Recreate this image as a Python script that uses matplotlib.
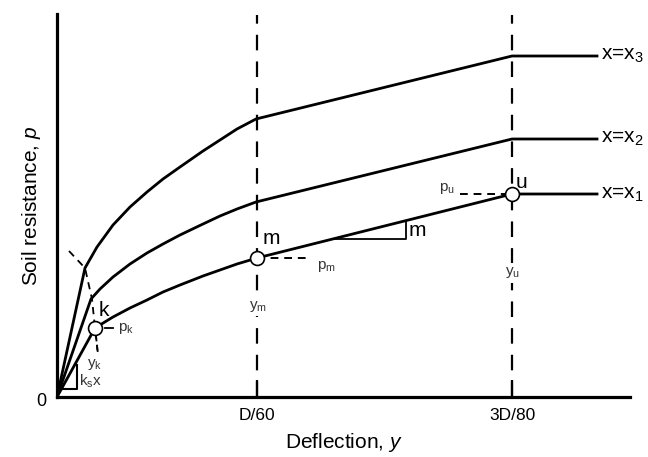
import matplotlib
matplotlib.use("Agg")
import matplotlib.pyplot as plt

plt.rcParams['font.family'] = ['Liberation Sans', 'DejaVu Sans']
plt.rcParams['mathtext.fontset'] = 'custom'
plt.rcParams['mathtext.rm'] = 'Liberation Sans'
plt.rcParams['mathtext.it'] = 'Liberation Sans:italic'

# deflection / resistance points (schematic units)
y_x1 = [0, 38, 56, 73, 90, 106, 123, 146, 163, 180, 200, 455, 540]
p_x1 = [0, 69, 80, 89, 97, 105, 112, 121, 127, 133, 139, 203, 203]
y_x2 = [0, 34, 43, 56, 73, 90, 106, 123, 146, 163, 180, 199, 455, 540]
p_x2 = [0, 98, 108, 120, 133, 144, 153, 162, 173, 181, 188, 195, 258, 258]
y_x3 = [0, 28, 40, 56, 73, 90, 106, 123, 146, 163, 180, 199, 455, 540]
p_x3 = [0, 129, 150, 172, 190, 205, 218, 230, 246, 257, 268, 278, 341, 341]
curve_labels = ["x=x$_1$", "x=x$_2$", "x=x$_3$"]

# dashed line through the k points
y_kline = [12, 28, 35, 38, 41]
p_kline = [146, 129, 98, 69, 43]

# key points on the x=x1 curve
y_k, p_k = 38, 69
y_m, p_m = 200, 139
y_u, p_u = 455, 203

tick_pos = [y_m, y_u]
tick_labels = ["D/60", "3D/80"]

fig = plt.figure(figsize=(6.48, 4.57), dpi=100)
ax = fig.add_axes([57/648, 60/457, 573/648, 383/457])
ax.set_xlim(0, 573)
ax.set_ylim(0, 383)
for s in ['top', 'right']:
    ax.spines[s].set_visible(False)
for s in ['left', 'bottom']:
    ax.spines[s].set_linewidth(2.3)

ax.set_xticks(tick_pos)
ax.set_xticklabels(tick_labels, fontsize=12.5)
ax.set_yticks([])
ax.tick_params(axis='x', direction='in', length=12, width=1.6, pad=8)

# vertical dashed guides
for xv in tick_pos:
    ax.plot([xv, xv], [0, 382], color='black', lw=1.6, ls=(0, (7, 5)))

for yy, pp, lab in zip([y_x1, y_x2, y_x3], [p_x1, p_x2, p_x3], curve_labels):
    ax.plot(yy, pp, color='black', lw=2.0, solid_joinstyle='round', zorder=3)
    ax.text(yy[-1] + 4, pp[-1], lab, fontsize=15, va='center', ha='left')

ax.plot(y_kline, p_kline, color='black', lw=1.3, ls=(0, (4, 3)), zorder=2)

# small dashed leaders
ax.plot([y_k + 1, y_k + 3], [p_k - 8, p_k - 28], color='black', lw=1.3, ls=(0, (3, 2)))
ax.plot([y_m, y_m + 52], [p_m, p_m], color='black', lw=1.4, ls=(0, (4, 3)))
ax.plot([y_u - 52, y_u], [p_u, p_u], color='black', lw=1.4, ls=(0, (4, 3)))
ax.plot([y_k + 10, y_k + 18], [p_k, p_k], color='black', lw=1.3)

# slope triangle (m)
ax.plot([278, 349, 349], [158, 158, 176], color='black', lw=1.3)
# initial slope triangle (ks x)
ax.plot([5, 20, 20], [8, 8, 32], color='black', lw=1.5)

# circles at k, m, u
ax.plot([y_k, y_m, y_u], [p_k, p_m, p_u], 'o', ms=10, mfc='white', mec='black',
        mew=1.2, zorder=5)

tc = '#333333'
wb = dict(facecolor='white', edgecolor='none', pad=1.5)
ax.text(y_k + 9, p_k + 18, "k", fontsize=15, ha='center', va='center')
ax.text(y_k + 23, p_k, r"$\mathregular{p_k}$", fontsize=11, color=tc, va='center', ha='left')
ax.text(y_k + 0, p_k - 36, r"$\mathregular{y_k}$", fontsize=11, color=tc, va='center',
        ha='center', bbox=wb, zorder=4)
ax.text(22, 16, r"$\mathregular{k_s x}$", fontsize=11, color=tc, va='center', ha='left')
ax.text(y_m + 6, p_m + 19, "m", fontsize=15, ha='left', va='center')
ax.text(y_m + 60, p_m - 9, r"$\mathregular{p_m}$", fontsize=11, color=tc, va='center', ha='left')
ax.text(y_m + 1, p_m - 48, r"$\mathregular{y_m}$", fontsize=11, color=tc, va='center',
        ha='center', bbox=wb, zorder=4)
ax.text(352, 167, "m", fontsize=15, ha='left', va='center')
ax.text(y_u + 4, p_u + 12, "u", fontsize=15, ha='left', va='center')
ax.text(y_u - 57, p_u + 6, r"$\mathregular{p_u}$", fontsize=11, color=tc, va='center', ha='right')
ax.text(y_u + 1, p_u - 79, r"$\mathregular{y_u}$", fontsize=11, color=tc, va='center',
        ha='center', bbox=wb, zorder=4)
ax.text(-11, -4, "0", fontsize=13, ha='right', va='center')

ax.set_xlabel(r"Deflection, $\mathit{y}$", fontsize=15, labelpad=6)
ax.set_ylabel(r"Soil resistance, $\mathit{p}$", fontsize=15, labelpad=10)

fig.savefig("out.png", dpi=100)
